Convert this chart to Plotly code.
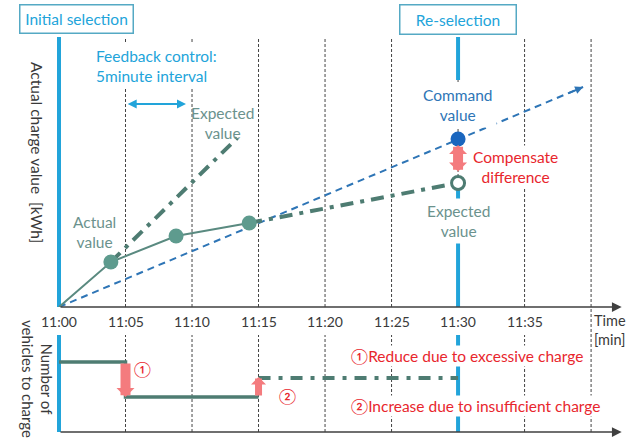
import plotly.graph_objects as go

# ---------------- data ----------------
tick_minutes = [0, 5, 10, 15, 20, 25, 30, 35]
tick_labels = ["11:00", "11:05", "11:10", "11:15", "11:20", "11:25", "11:30", "11:35"]
grid_minutes = [5, 10, 15, 20, 25, 30, 35]
last_grid_minute = 40

actual_t = [0, 3.9, 8.8, 14.3]
actual_v = [0, 45, 71, 84]
actual_marker_t = [3.9, 8.8, 14.3]
actual_marker_v = [45, 71, 84]

expected_early_t = [3.9, 13.4]
expected_early_v = [45, 169]
expected_late_t = [14.3, 30]
expected_late_v = [84, 124]

command_t = [0, 39.4]
command_v = [0, 220]
command_point_t = [30]
command_point_v = [168]
expected_point_t = [30]
expected_point_v = [124]

reselect_minute = 30
reselect_top_v = [270, 227, None, 117, 0]
reselect_bottom_v = [0, 97]

vehicles_t = [0, 5, 15]
vehicles_v = [70, 35, 35]
vehicles_exp_t = [15, 30]
vehicles_exp_v = [54, 54]

# ---------------- styles ----------------
FONT = "Lato"
LIGHT_BLUE = "#22A4DA"
BOX_BORDER = "#55A9C4"
CMD_BLUE = "#2E75B6"
TEAL_LINE = "#4E7C72"
TEAL_MARK = "#5E9B8E"
TEAL_TEXT = "#6B928D"
RED = "#E8262D"
PINK = "#F47B7E"
AXIS = "#404040"

W, H = 634, 442
ML, MR = 57, 11
XR = [-0.15, 42.4]


def px_x(px):
    return (px - ML) / (W - ML - MR)


def px_y(py):
    return (H - py) / H


fig = go.Figure()

# vertical blue "selection" lines / y axis lines
fig.add_trace(go.Scatter(x=[0, 0], y=[0, 270], mode="lines",
                         line=dict(color=LIGHT_BLUE, width=4), xaxis="x", yaxis="y"))
fig.add_trace(go.Scatter(x=[0, 0], y=[0, 97], mode="lines",
                         line=dict(color=LIGHT_BLUE, width=4), xaxis="x2", yaxis="y2"))
fig.add_trace(go.Scatter(x=[reselect_minute] * len(reselect_top_v), y=reselect_top_v, mode="lines",
                         line=dict(color=LIGHT_BLUE, width=4), xaxis="x", yaxis="y", connectgaps=False))
fig.add_trace(go.Scatter(x=[reselect_minute] * 2, y=reselect_bottom_v, mode="lines",
                         line=dict(color=LIGHT_BLUE, width=4), xaxis="x2", yaxis="y2"))

# command value dashed line
fig.add_trace(go.Scatter(x=command_t, y=command_v, mode="lines",
                         line=dict(color=CMD_BLUE, width=2, dash="7px,5px"), xaxis="x", yaxis="y"))

# expected dash-dot lines
fig.add_trace(go.Scatter(x=expected_early_t, y=expected_early_v, mode="lines",
                         line=dict(color=TEAL_LINE, width=4, dash="13px,7px,4px,7px"), xaxis="x", yaxis="y"))
fig.add_trace(go.Scatter(x=expected_late_t, y=expected_late_v, mode="lines",
                         line=dict(color=TEAL_LINE, width=4, dash="13px,7px,4px,7px"), xaxis="x", yaxis="y"))

# actual line + markers
fig.add_trace(go.Scatter(x=actual_t, y=actual_v, mode="lines",
                         line=dict(color="#5A8A80", width=2), xaxis="x", yaxis="y"))
fig.add_trace(go.Scatter(x=actual_marker_t, y=actual_marker_v, mode="markers",
                         marker=dict(color=TEAL_MARK, size=15), xaxis="x", yaxis="y"))

# command / expected points
fig.add_trace(go.Scatter(x=command_point_t, y=command_point_v, mode="markers",
                         marker=dict(color="#1A66BE", size=15), xaxis="x", yaxis="y"))
fig.add_trace(go.Scatter(x=expected_point_t, y=expected_point_v, mode="markers",
                         marker=dict(color="white", size=13, line=dict(color=TEAL_LINE, width=3)),
                         xaxis="x", yaxis="y"))

# vehicles step
fig.add_trace(go.Scatter(x=vehicles_t, y=vehicles_v, mode="lines", line_shape="hv",
                         line=dict(color=TEAL_LINE, width=3.5), xaxis="x2", yaxis="y2"))
fig.add_trace(go.Scatter(x=vehicles_exp_t, y=vehicles_exp_v, mode="lines",
                         line=dict(color=TEAL_LINE, width=4, dash="12px,8px,4px,8px"), xaxis="x2", yaxis="y2"))

# ---------------- grid shapes ----------------
shapes = []
for m in grid_minutes:
    shapes.append(dict(type="line", xref="x", yref="y domain", x0=m, x1=m, y0=0, y1=1,
                       line=dict(color="#444444", width=1, dash="3px,2px"), layer="below"))
    shapes.append(dict(type="line", xref="x2", yref="y2 domain", x0=m, x1=m, y0=0, y1=1,
                       line=dict(color="#444444", width=1, dash="3px,2px"), layer="below"))
shapes.append(dict(type="line", xref="x", yref="paper", x0=last_grid_minute, x1=last_grid_minute,
                   y0=px_y(432), y1=px_y(37),
                   line=dict(color="#444444", width=1, dash="3px,2px"), layer="below"))

# ---------------- annotations ----------------
ann = []


def txt(text, x, y, color, xref="x", yref="y", size=15.5, xanchor="center", bg=None, align="center", **kw):
    d = dict(text=text, x=x, y=y, xref=xref, yref=yref, showarrow=False, xanchor=xanchor,
             yanchor="middle", align=align, font=dict(family=FONT, size=size, color=color))
    if bg:
        d["bgcolor"] = bg
    d.update(kw)
    ann.append(d)


def arrow(x, y, ax, ay, color, width, head, size, xref="x", yref="y", both=False):
    d = dict(text="", x=x, y=y, ax=ax, ay=ay, xref=xref, yref=yref, axref=xref, ayref=yref,
             showarrow=True, arrowhead=head, arrowsize=size, arrowwidth=width, arrowcolor=color,
             standoff=0, startstandoff=0)
    if both:
        d.update(arrowside="end+start", startarrowhead=head, startarrowsize=size)
    ann.append(d)


# axes arrows
arrow(42.3, 0, 0, 0, AXIS, 1.5, 2, 1.3, "x", "y")
arrow(42.3, 0, 0, 0, AXIS, 1.5, 2, 1.3, "x2", "y2")

# command line arrowhead
slope = command_v[1] / command_t[1]
arrow(command_t[1], command_v[1], command_t[1] - 1.2, command_v[1] - 1.2 * slope, CMD_BLUE, 2, 2, 0.8)

# tick labels
for m, lab in zip(tick_minutes, tick_labels):
    txt(lab, m, px_y(321), "#3A3A3A", xref="x", yref="paper", size=14)

txt("Time<br>[min]", px_x(592), px_y(330), "#3A3A3A", xref="paper", yref="paper", size=14.5,
    xanchor="left", align="left")

# y titles
txt("Actual charge value  [kWh]", px_x(37), px_y(152), "#3A3A3A", xref="paper", yref="paper",
    size=15.5, textangle=90)
txt("Number of<br>vehicles to charge", px_x(37), px_y(379), "#3A3A3A", xref="paper", yref="paper",
    size=15, textangle=90)

# boxes
txt("Initial selection", px_x(76), px_y(19.5), LIGHT_BLUE, xref="paper", yref="paper", bg="white",
    bordercolor=BOX_BORDER, borderwidth=1.5, borderpad=0, width=112, height=27)
txt("Re-selection", reselect_minute, px_y(20), LIGHT_BLUE, xref="x", yref="paper", bg="white",
    bordercolor=BOX_BORDER, borderwidth=1.5, borderpad=0, width=115, height=28)

txt("Feedback control:<br>5minute interval", 2.5, 241, LIGHT_BLUE, xanchor="left", align="left",
    bg="white", borderpad=3)
arrow(9.55, 203, 5.05, 203, LIGHT_BLUE, 2, 2, 0.9, both=True)

txt("Expected<br>value", 12.3, 184.5, TEAL_TEXT)
txt("Actual<br>value", 2.7, 75, TEAL_TEXT)
txt("Command<br>value", reselect_minute, 202, CMD_BLUE, bg="white", borderpad=3)
txt("Expected<br>value", reselect_minute, 86, TEAL_TEXT, bg="white", borderpad=3)
txt("Compensate<br>difference", 34.3, 140, RED, bg="white", borderpad=2)

# compensate double arrow
arrow(command_point_t[0], command_point_v[0] - 6, expected_point_t[0], expected_point_v[0] + 10,
      PINK, 10, 1, 0.3, both=True)

# bottom panel arrows
arrow(vehicles_t[1], vehicles_v[1], vehicles_t[1], vehicles_v[0], PINK, 10, 1, 0.3, "x2", "y2")
arrow(vehicles_exp_t[0], vehicles_exp_v[0] + 1, vehicles_exp_t[0], vehicles_v[2], PINK, 7, 1, 0.36, "x2", "y2")

txt("①", 6.3, 63, RED, xref="x2", yref="y2")
txt("②", 17.2, 36, RED, xref="x2", yref="y2")
txt("①Reduce due to excessive charge", 21.8, 76, RED, xref="x2", yref="y2", xanchor="left",
    bg="white", borderpad=1)
txt("②Increase due to insufficient charge", 21.8, 26, RED, xref="x2", yref="y2", xanchor="left",
    bg="white", borderpad=1)

fig.update_layout(
    width=W, height=H,
    margin=dict(l=ML, r=MR, t=0, b=0),
    paper_bgcolor="white", plot_bgcolor="white",
    showlegend=False,
    hovermode=False,
    font=dict(family=FONT),
    xaxis=dict(domain=[0, 1], range=XR, anchor="y", visible=False),
    yaxis=dict(domain=[px_y(307), px_y(37)], range=[0, 270], anchor="x", visible=False),
    xaxis2=dict(domain=[0, 1], range=XR, anchor="y2", visible=False, matches="x"),
    yaxis2=dict(domain=[px_y(432), px_y(335)], range=[0, 97], anchor="x2", visible=False),
    shapes=shapes,
    annotations=ann,
)

fig.write_html("out.html", config={"displayModeBar": False, "staticPlot": True},
               post_script="document.body.style.margin='0';document.body.style.overflow='hidden';")
